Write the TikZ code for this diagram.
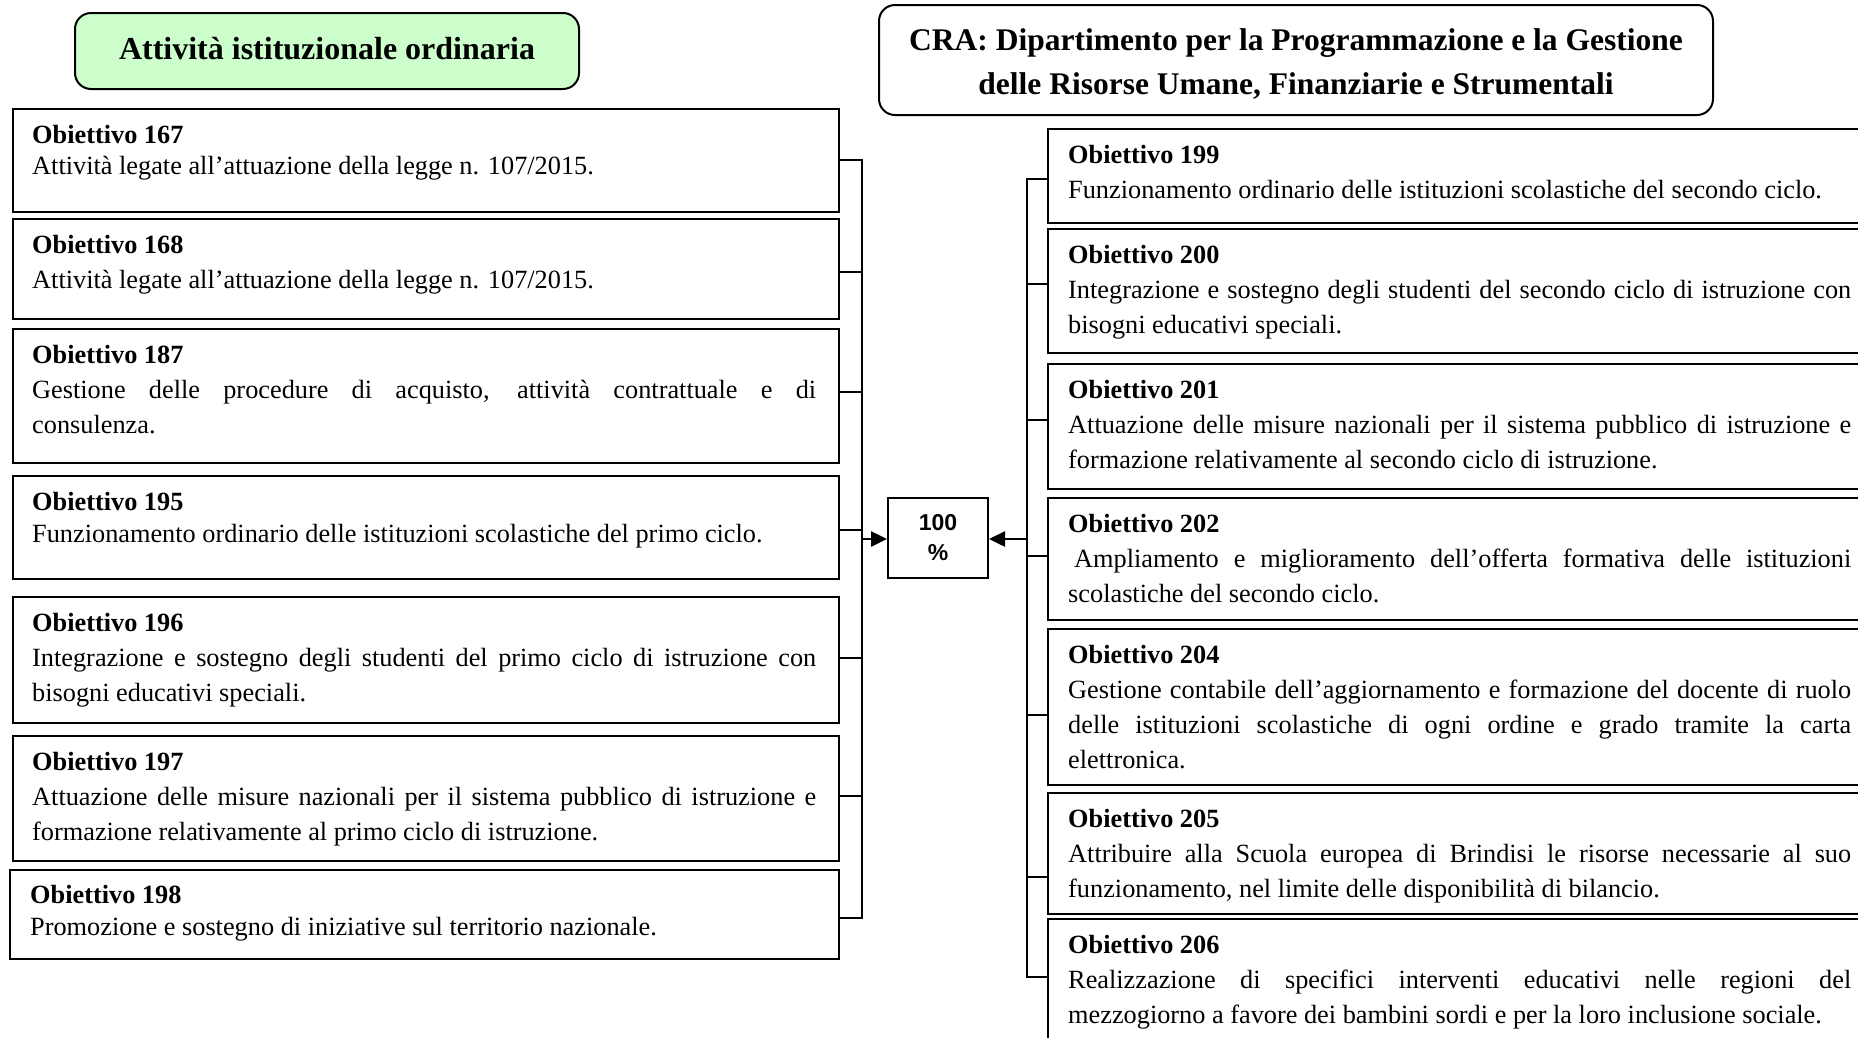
\documentclass[tikz,border=0pt]{standalone}
\usepackage{fontspec}
\setmainfont{Liberation Serif}
\newfontfamily\pctfont{Liberation Sans}
\usetikzlibrary{arrows.meta}
\definecolor{headgreen}{RGB}{204,255,204}
\hyphenpenalty=10000
\exhyphenpenalty=10000
\tolerance=10000
\hbadness=10000
\newcommand\firstline{\rule{0pt}{24.5pt}}

\begin{document}
\begin{tikzpicture}[x=1pt,y=-1pt,
  objbox/.style={draw=black, line width=2pt, rectangle, inner sep=0pt, anchor=north west},
  lbox/.style={objbox, minimum width=826pt},
  rbox/.style={objbox, minimum width=828pt},
  objtext/.style={anchor=north west, inner sep=0pt, text width=784pt, align=justify,
    font=\fontsize{26.3}{35}\selectfont},
  bus/.style={line width=2.5pt},
  tip/.style={-{Triangle[length=16pt,width=15pt]}},
  headbox/.style={draw=black, line width=2pt, rounded corners=16pt, inner sep=0pt, align=center}]

\useasboundingbox (0,0) rectangle (1858,1037);
\clip (0,0) rectangle (1858,1037);

% headings
\node[headbox, fill=headgreen, minimum width=504pt, minimum height=76pt] (hleft) at (327,51) {};
\node[font=\bfseries\fontsize{32}{40}\selectfont, inner sep=0pt] (hleftt) at (327,48.5)
      {Attività istituzionale ordinaria};
\node[headbox, minimum width=834pt, minimum height=110pt] (hright) at (1296,60) {};
\node[align=center, inner sep=0pt, font=\bfseries\fontsize{31.5}{44}\selectfont] (hrightt) at (1296,64)
      {CRA: Dipartimento per la Programmazione e la Gestione\\delle Risorse Umane, Finanziarie e Strumentali};

% left column of objectives
\node[lbox, minimum height=103pt] (b167) at (12,108) {};
\node[lbox, minimum height=100pt] (b168) at (12,218) {};
\node[lbox, minimum height=134pt] (b187) at (12,328) {};
\node[lbox, minimum height=103pt] (b195) at (12,475) {};
\node[lbox, minimum height=126pt] (b196) at (12,596) {};
\node[lbox, minimum height=125pt] (b197) at (12,735) {};
\node[lbox, minimum height=89pt, minimum width=829pt] (b198) at (9,869) {};

\node[objtext] (t167) at (32,118.5) {\firstline\textbf{Obiettivo 167}\\[-3.5pt]Attività legate all’attuazione della legge n. 107/2015.};
\node[objtext] (t168) at (32,228.5) {\firstline\textbf{Obiettivo 168}\\Attività legate all’attuazione della legge n. 107/2015.};
\node[objtext] (t187) at (32,338.5) {\firstline\textbf{Obiettivo 187}\\Gestione delle procedure di acquisto, attività contrattuale e di\linebreak consulenza.};
\node[objtext] (t195) at (32,485.5) {\firstline\textbf{Obiettivo 195}\\[-3pt]Funzionamento ordinario delle istituzioni scolastiche del primo ciclo.};
\node[objtext] (t196) at (32,606.5) {\firstline\textbf{Obiettivo 196}\\Integrazione e sostegno degli studenti del primo ciclo di istruzione con\linebreak bisogni educativi speciali.};
\node[objtext] (t197) at (32,745.5) {\firstline\textbf{Obiettivo 197}\\Attuazione delle misure nazionali per il sistema pubblico di istruzione e\linebreak formazione relativamente al primo ciclo di istruzione.};
\node[objtext] (t198) at (30,878.5) {\firstline\textbf{Obiettivo 198}\\[-3pt]Promozione e sostegno di iniziative sul territorio nazionale.};

% right column of objectives
\node[rbox, minimum height=94pt] (b199) at (1047,128) {};
\node[rbox, minimum height=124pt] (b200) at (1047,228) {};
\node[rbox, minimum height=125pt] (b201) at (1047,363) {};
\node[rbox, minimum height=122pt] (b202) at (1047,497) {};
\node[rbox, minimum height=156pt] (b204) at (1047,628) {};
\node[rbox, minimum height=121pt] (b205) at (1047,792) {};
\node[rbox, minimum height=140pt] (b206) at (1047,918) {};

\node[objtext, text width=783pt] (t199) at (1068,138.5) {\firstline\textbf{Obiettivo 199}\\Funzionamento ordinario delle istituzioni scolastiche del secondo ciclo.};
\node[objtext, text width=783pt] (t200) at (1068,238.5) {\firstline\textbf{Obiettivo 200}\\Integrazione e sostegno degli studenti del secondo ciclo di istruzione con\linebreak bisogni educativi speciali.};
\node[objtext, text width=783pt] (t201) at (1068,373.5) {\firstline\textbf{Obiettivo 201}\\Attuazione delle misure nazionali per il sistema pubblico di istruzione e\linebreak formazione relativamente al secondo ciclo di istruzione.};
\node[objtext, text width=783pt] (t202) at (1068,507.5) {\firstline\textbf{Obiettivo 202}\\\hspace*{6pt}Ampliamento e miglioramento dell’offerta formativa delle istituzioni\linebreak scolastiche del secondo ciclo.};
\node[objtext, text width=783pt] (t204) at (1068,638.5) {\firstline\textbf{Obiettivo 204}\\Gestione contabile dell’aggiornamento e formazione del docente di ruolo\linebreak delle istituzioni scolastiche di ogni ordine e grado tramite la carta\linebreak elettronica.};
\node[objtext, text width=783pt] (t205) at (1068,802.5) {\firstline\textbf{Obiettivo 205}\\Attribuire alla Scuola europea di Brindisi le risorse necessarie al suo\linebreak funzionamento, nel limite delle disponibilità di bilancio.};
\node[objtext, text width=783pt] (t206) at (1068,928.5) {\firstline\textbf{Obiettivo 206}\\Realizzazione di specifici interventi educativi nelle regioni del\linebreak mezzogiorno a favore dei bambini sordi e per la loro inclusione sociale.};

% central share box
\node[draw=black, line width=2pt, minimum width=100pt, minimum height=80pt, inner sep=0pt,
      align=center, font=\pctfont\bfseries\fontsize{23}{30}\selectfont] (pct) at (938,538) {100\\\%};

% left collector
\coordinate (L167) at (862,160);
\coordinate (L168) at (862,272);
\coordinate (L187) at (862,392);
\coordinate (L195) at (862,530);
\coordinate (L196) at (862,658);
\coordinate (L197) at (862,796);
\coordinate (L198) at (862,918);
\coordinate (Lmid) at (862,539);

\draw[bus] (b167.east |- L167) -- (L167) -- (L198) -- (b198.east |- L198);
\foreach \b in {168,187,195,196,197}
  \draw[bus] (b\b.east |- L\b) -- (L\b);
\draw[bus, tip] (Lmid) -- (pct.west |- Lmid);

% right collector
\coordinate (R199) at (1027,179);
\coordinate (R200) at (1027,284);
\coordinate (R201) at (1027,420);
\coordinate (R202) at (1027,556);
\coordinate (R204) at (1027,715);
\coordinate (R205) at (1027,877);
\coordinate (R206) at (1027,977);
\coordinate (Rmid) at (1027,539);

\draw[bus] (b199.west |- R199) -- (R199) -- (R206) -- (b206.west |- R206);
\foreach \b in {200,201,202,204,205}
  \draw[bus] (b\b.west |- R\b) -- (R\b);
\draw[bus, tip] (Rmid) -- (pct.east |- Rmid);

\end{tikzpicture}
\end{document}
